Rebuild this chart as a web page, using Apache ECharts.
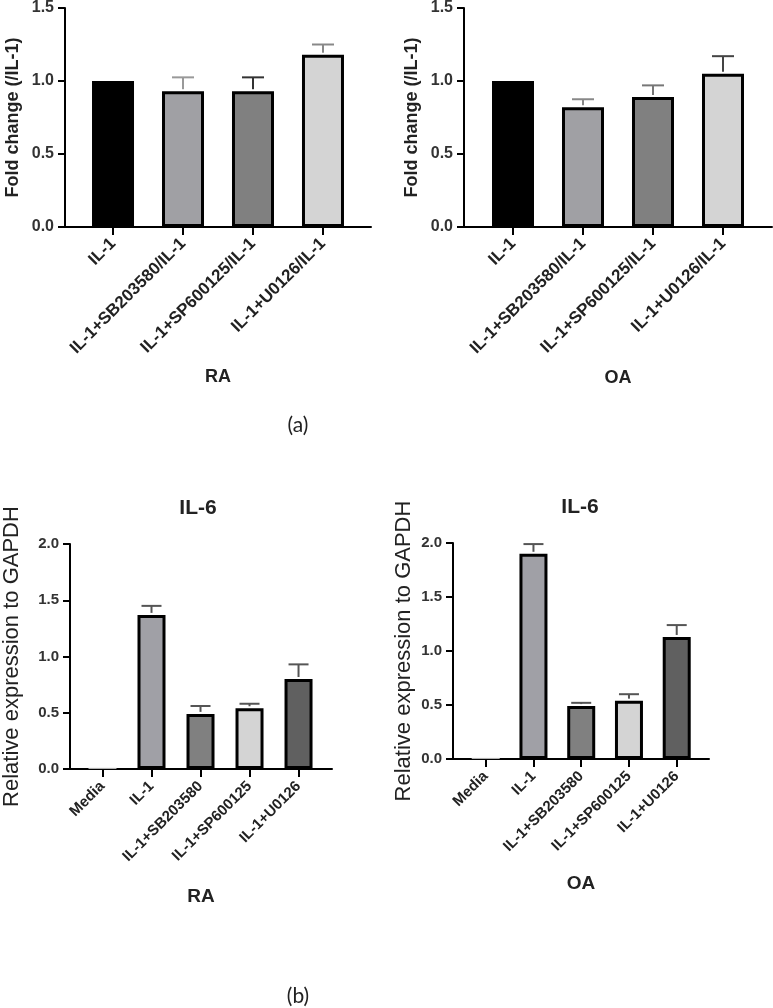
<!DOCTYPE html>
<html lang="en">
<head>
    <meta charset="UTF-8">
    <title>IL-1 / IL-6 bar charts</title>
    <script src="https://cdn.jsdelivr.net/npm/echarts@6/dist/echarts.min.js"></script>
    <style>
        html, body { margin: 0; padding: 0; background: #fff; }
        #content { width: 773px; height: 1008px; }
    </style>
</head>
<body>
<div id="content"></div>
<script>
    // (a) fold change vs IL-1
    var foldCats = ['IL-1', 'IL-1+SB203580/IL-1', 'IL-1+SP600125/IL-1', 'IL-1+U0126/IL-1'];
    var raFold = [1.00, 0.93, 0.93, 1.18];
    var raFoldErr = [0, 0.095, 0.095, 0.07];
    var oaFold = [1.00, 0.82, 0.89, 1.05];
    var oaFoldErr = [0, 0.055, 0.08, 0.12];
    var foldTicks = [0, 0.5, 1.0, 1.5];

    // (b) IL-6 relative expression
    var il6Cats = ['Media', 'IL-1', 'IL-1+SB203580', 'IL-1+SP600125', 'IL-1+U0126'];
    var raIL6 = [0.01, 1.37, 0.49, 0.54, 0.80];
    var raIL6Err = [0, 0.08, 0.07, 0.04, 0.13];
    var oaIL6 = [0.01, 1.90, 0.49, 0.54, 1.13];
    var oaIL6Err = [0, 0.09, 0.03, 0.06, 0.11];
    var il6Ticks = [0, 0.5, 1.0, 1.5, 2.0];

    var FONT = '"Liberation Sans", Arial, sans-serif';
    var foldFills = ['#000000', '#a0a0a4', '#808080', '#d4d4d4'];
    var il6Fills = ['#b0b0b0', '#a0a0a6', '#808080', '#d4d4d4', '#606060'];

    var panels = [
        { cats: foldCats, vals: raFold, errs: raFoldErr, ticks: foldTicks, fills: foldFills,
          errColors: ['#000', '#999', '#333', '#888'],
          grid: { left: 65, top: 7, width: 306, height: 220 }, xMin: -0.686, xMax: 3.686,
          yName: 'Fold change (/IL-1)', yNameSize: 18, yNameWeight: 'bold', yNameGap: 43,
          xName: 'RA', xNameGap: 141, xNameSize: 18, labelSize: 17, tickSize: 16, labelMargin: 14,
          barWidth: 42, cap: 11 },
        { cats: foldCats, vals: oaFold, errs: oaFoldErr, ticks: foldTicks, fills: foldFills,
          errColors: ['#000', '#888', '#777', '#444'],
          grid: { left: 464, top: 7, width: 308, height: 220 }, xMin: -0.7, xMax: 3.7,
          yName: 'Fold change (/IL-1)', yNameSize: 18, yNameWeight: 'bold', yNameGap: 43,
          xName: 'OA', xNameGap: 142, xNameSize: 18, labelSize: 17, tickSize: 16, labelMargin: 14,
          barWidth: 42, cap: 11 },
        { cats: il6Cats, vals: raIL6, errs: raIL6Err, ticks: il6Ticks, fills: il6Fills,
          errColors: ['#555', '#555', '#555', '#555', '#555'],
          grid: { left: 66, top: 544, width: 266, height: 225 }, xMin: -0.663, xMax: 4.683,
          yName: 'Relative expression to GAPDH', yNameSize: 22, yNameWeight: 'normal', yNameGap: 47,
          xName: 'RA', xNameGap: 118, xNameSize: 19, labelSize: 15, tickSize: 15, labelMargin: 15,
          barWidth: 28, cap: 10 },
        { cats: il6Cats, vals: oaIL6, errs: oaIL6Err, ticks: il6Ticks, fills: il6Fills,
          errColors: ['#555', '#555', '#555', '#555', '#555'],
          grid: { left: 453, top: 543, width: 256, height: 216 }, xMin: -0.685, xMax: 4.676,
          yName: 'Relative expression to GAPDH', yNameSize: 22, yNameWeight: 'normal', yNameGap: 38,
          xName: 'OA', xNameGap: 115, xNameSize: 19, labelSize: 15, tickSize: 15, labelMargin: 15,
          barWidth: 28, cap: 10 }
    ];

    var grids = [], xAxes = [], yAxes = [], series = [];

    panels.forEach(function (p, i) {
        var idx = p.cats.map(function (c, k) { return k; });
        grids.push(p.grid);
        xAxes.push({
            type: 'value', gridIndex: i, min: p.xMin, max: p.xMax,
            name: p.xName, nameLocation: 'middle', nameGap: p.xNameGap,
            nameTextStyle: { fontFamily: FONT, fontWeight: 'bold', fontSize: p.xNameSize, color: '#222' },
            axisLine: { show: true, onZero: false, lineStyle: { color: '#000', width: 2 } },
            axisTick: { show: true, customValues: idx, length: 8, lineStyle: { color: '#000', width: 2 } },
            axisLabel: {
                customValues: idx, rotate: 45, margin: p.labelMargin,
                fontFamily: FONT, fontWeight: 'bold', fontSize: p.labelSize, color: '#222',
                formatter: function (v) { return p.cats[Math.round(v)]; }
            },
            splitLine: { show: false }
        });
        yAxes.push({
            type: 'value', gridIndex: i, min: p.ticks[0], max: p.ticks[p.ticks.length - 1],
            interval: p.ticks[1] - p.ticks[0],
            name: p.yName, nameLocation: 'middle', nameRotate: 90, nameGap: p.yNameGap,
            nameTextStyle: { fontFamily: FONT, fontWeight: p.yNameWeight, fontSize: p.yNameSize, color: '#222' },
            axisLine: { show: true, onZero: false, lineStyle: { color: '#000', width: 2 } },
            axisTick: { show: true, length: 7, lineStyle: { color: '#000', width: 2 } },
            axisLabel: {
                margin: 11, fontFamily: FONT, fontWeight: 'bold', fontSize: p.tickSize, color: '#333',
                formatter: function (v) { return v.toFixed(1); }
            },
            splitLine: { show: false }
        });
        series.push({
            type: 'bar', xAxisIndex: i, yAxisIndex: i, barWidth: p.barWidth,
            data: p.vals.map(function (v, k) {
                var media = p.cats[k] === 'Media';
                return {
                    value: [k, v],
                    itemStyle: { color: p.fills[k], borderColor: '#000', borderWidth: media ? 0 : 3 }
                };
            })
        });
        series.push({
            type: 'custom', xAxisIndex: i, yAxisIndex: i, z: 3,
            data: p.vals.map(function (v, k) { return [k, v, p.errs[k]]; }),
            encode: { x: 0, y: 1 },
            renderItem: function (params, api) {
                var e = api.value(2);
                if (!e) return null;
                var base = api.coord([api.value(0), api.value(1)]);
                var top = api.coord([api.value(0), api.value(1) + e]);
                var c = p.errColors[params.dataIndex];
                var st = { stroke: c, lineWidth: 2 };
                return {
                    type: 'group',
                    children: [
                        { type: 'line', shape: { x1: base[0], y1: base[1] - 2, x2: top[0], y2: top[1] }, style: st },
                        { type: 'line', shape: { x1: top[0] - p.cap, y1: top[1], x2: top[0] + p.cap, y2: top[1] }, style: st }
                    ]
                };
            }
        });
    });

    function label(text, x, y, font) {
        return {
            type: 'text', x: x, y: y,
            style: { text: text, font: font, fill: '#222',
                     textAlign: 'center', textVerticalAlign: 'middle', align: 'center', verticalAlign: 'middle' }
        };
    }

    var myChart = echarts.init(document.getElementById('content'));
    myChart.setOption({
        animation: false,
        backgroundColor: '#fff',
        grid: grids,
        xAxis: xAxes,
        yAxis: yAxes,
        series: series,
        graphic: [
            label('IL-6', 198, 508, 'bold 21px ' + FONT),
            label('IL-6', 580, 507, 'bold 21px ' + FONT),
            label('(a)', 298, 425, '21px Lato, "Open Sans", sans-serif'),
            label('(b)', 298, 996, '21px Lato, "Open Sans", sans-serif')
        ]
    });
</script>
</body>
</html>
